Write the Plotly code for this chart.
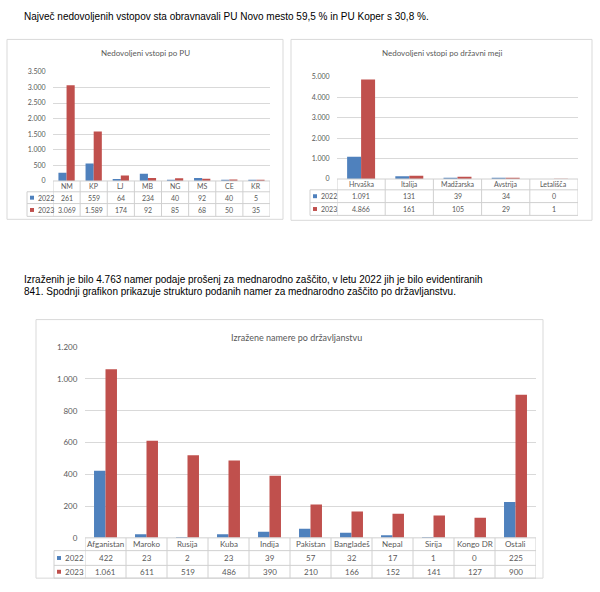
import plotly.graph_objects as go

W, H = 600, 592

# ---------------- data ----------------
pu_categories = ["NM", "KP", "LJ", "MB", "NG", "MS", "CE", "KR"]
pu_2022 = [261, 559, 64, 234, 40, 92, 40, 5]
pu_2023 = [3069, 1589, 174, 92, 85, 68, 50, 35]
pu_yticks = [0, 500, 1000, 1500, 2000, 2500, 3000, 3500]

border_categories = ["Hrvaška", "Italija", "Madžarska", "Avstrija", "Letališča"]
border_2022 = [1091, 131, 39, 34, 0]
border_2023 = [4866, 161, 105, 29, 1]
border_yticks = [0, 1000, 2000, 3000, 4000, 5000]

nat_categories = ["Afganistan", "Maroko", "Rusija", "Kuba", "Indija", "Pakistan",
                  "Bangladeš", "Nepal", "Sirija", "Kongo DR", "Ostali"]
nat_2022 = [422, 23, 2, 23, 39, 57, 32, 17, 1, 0, 225]
nat_2023 = [1061, 611, 519, 486, 390, 210, 166, 152, 141, 127, 900]
nat_yticks = [0, 200, 400, 600, 800, 1000, 1200]

series_names = ["2022", "2023"]
text_line1 = "Največ nedovoljenih vstopov sta obravnavali PU Novo mesto 59,5 % in PU Koper s 30,8 %."
text_para = ["Izraženih je bilo 4.763 namer podaje prošenj za mednarodno zaščito, v letu 2022 jih je bilo evidentiranih",
             "841. Spodnji grafikon prikazuje strukturo podanih namer za mednarodno zaščito po državljanstvu."]

BLUE = "#4F81BD"
RED = "#C0504D"
GRID = "#D9D9D9"
TBL = "#D0D0D0"
TXT = "#595959"
CFONT = "Lato"


def fmt(v):
    return f"{v:,}".replace(",", ".")


def px(x):
    return x / W


def py(y):
    return 1 - y / H


fig = go.Figure()
shapes = []
annotations = []


def chart(idx, cats, v22, v23, yticks, title, box, plot, rows, leg_left,
          bw, fs_tick, fs_title, fs_tbl, title_pos):
    xa = "x" if idx == 1 else f"x{idx}"
    ya = "y" if idx == 1 else f"y{idx}"
    xl = "xaxis" if idx == 1 else f"xaxis{idx}"
    yl = "yaxis" if idx == 1 else f"yaxis{idx}"
    x0, y0, x1, y1 = plot
    for name, vals, col, off in [(series_names[0], v22, BLUE, -bw), (series_names[1], v23, RED, 0)]:
        fig.add_trace(go.Bar(x=cats, y=vals, name=name, marker=dict(color=col, line=dict(width=0)),
                             width=bw, offset=off, xaxis=xa, yaxis=ya, showlegend=False,
                             hoverinfo="x+y"))
    fig.update_layout({
        xl: dict(domain=[px(x0), px(x1)], anchor=ya, type="category", showticklabels=False,
                 showgrid=False, zeroline=False, showline=False, range=[-0.5, len(cats) - 0.5],
                 fixedrange=True),
        yl: dict(domain=[py(y1), py(y0)], anchor=xa, range=[0, yticks[-1]],
                 tickvals=yticks, ticktext=[fmt(v) for v in yticks],
                 showgrid=True, gridcolor=GRID, gridwidth=1, zeroline=False, showline=False,
                 ticks="outside", ticklen=5, tickcolor="rgba(0,0,0,0)",
                 tickfont=dict(family=CFONT, size=fs_tick, color=TXT), fixedrange=True),
    })
    # outer box
    bx0, by0, bx1, by1 = box
    shapes.append(dict(type="rect", xref="paper", yref="paper", x0=px(bx0), x1=px(bx1),
                       y0=py(by1), y1=py(by0), line=dict(color=GRID, width=1), layer="below"))
    # title
    annotations.append(dict(text=title, xref="paper", yref="paper", x=px(title_pos[0]),
                            y=py(title_pos[1]), showarrow=False, xanchor="center", yanchor="middle",
                            font=dict(family=CFONT, size=fs_title, color=TXT)))
    r0, r1, r2, r3 = rows
    # horizontal table lines
    shapes.append(dict(type="line", xref="paper", yref="paper", x0=px(x0), x1=px(x1),
                       y0=py(r0), y1=py(r0), line=dict(color=TBL, width=1)))
    for r in (r1, r2, r3):
        shapes.append(dict(type="line", xref="paper", yref="paper", x0=px(leg_left), x1=px(x1),
                           y0=py(r), y1=py(r), line=dict(color=TBL, width=1)))
    # vertical lines
    shapes.append(dict(type="line", xref="paper", yref="paper", x0=px(leg_left), x1=px(leg_left),
                       y0=py(r1), y1=py(r3), line=dict(color=TBL, width=1)))
    for i in range(len(cats) + 1):
        shapes.append(dict(type="line", xref=xa, yref="paper", x0=i - 0.5, x1=i - 0.5,
                           y0=py(r0), y1=py(r3), line=dict(color=TBL, width=1)))
    # header + values
    for i, c in enumerate(cats):
        annotations.append(dict(text=c, xref=xa, yref="paper", x=c, y=py((r0 + r1) / 2),
                                showarrow=False, xanchor="center", yanchor="middle",
                                font=dict(family=CFONT, size=fs_tbl, color=TXT)))
        annotations.append(dict(text=fmt(v22[i]), xref=xa, yref="paper", x=c, y=py((r1 + r2) / 2),
                                showarrow=False, xanchor="center", yanchor="middle",
                                font=dict(family=CFONT, size=fs_tbl, color=TXT)))
        annotations.append(dict(text=fmt(v23[i]), xref=xa, yref="paper", x=c, y=py((r2 + r3) / 2),
                                showarrow=False, xanchor="center", yanchor="middle",
                                font=dict(family=CFONT, size=fs_tbl, color=TXT)))
    # legend keys
    for (ra, rb), col, nm in [((r1, r2), BLUE, series_names[0]), ((r2, r3), RED, series_names[1])]:
        cy = (ra + rb) / 2
        shapes.append(dict(type="rect", xref="paper", yref="paper", x0=px(leg_left + 3),
                           x1=px(leg_left + 7), y0=py(cy + 2), y1=py(cy - 2),
                           fillcolor=col, line=dict(width=0)))
        annotations.append(dict(text=nm, xref="paper", yref="paper", x=px(leg_left + 8.5), y=py(cy),
                                showarrow=False, xanchor="left", yanchor="middle",
                                font=dict(family=CFONT, size=fs_tbl, color=TXT)))


chart(1, pu_categories, pu_2022, pu_2023, pu_yticks, "Nedovoljeni vstopi po PU",
      box=(7, 35, 283, 218), plot=(53, 68, 270, 179), rows=(179, 190, 202, 215), leg_left=27,
      bw=0.3, fs_tick=7, fs_title=8, fs_tbl=7, title_pos=(145, 49))
chart(2, border_categories, border_2022, border_2023, border_yticks, "Nedovoljeni vstopi po državni meji",
      box=(291, 35, 592, 219), plot=(337, 73, 578, 177), rows=(177, 188, 201, 214), leg_left=310,
      bw=0.29, fs_tick=7, fs_title=8, fs_tbl=7, title_pos=(442, 49))
chart(3, nat_categories, nat_2022, nat_2023, nat_yticks, "Izražene namere po državljanstvu",
      box=(36, 320, 543, 583), plot=(85, 348, 536, 542), rows=(542, 555, 570, 583), leg_left=54,
      bw=0.28, fs_tick=8, fs_title=9, fs_tbl=8, title_pos=(296, 338))

# body text
BODY = dict(family="Liberation Sans", size=10, color="#000000")
annotations.append(dict(text=text_line1, xref="paper", yref="paper", x=px(22), y=py(12),
                        showarrow=False, xanchor="left", yanchor="middle", font=BODY))
for i, line in enumerate(text_para):
    annotations.append(dict(text=line, xref="paper", yref="paper", x=px(22), y=py(279 + 12 * i),
                            showarrow=False, xanchor="left", yanchor="middle", font=BODY))

fig.update_layout(width=W, height=H, margin=dict(l=0, r=0, t=0, b=0),
                  paper_bgcolor="white", plot_bgcolor="white", barmode="overlay",
                  shapes=shapes, annotations=annotations, showlegend=False)

fig.write_html("out.html", config={"displayModeBar": False},
               post_script="document.body.style.margin='0';document.body.style.overflow='hidden';")
